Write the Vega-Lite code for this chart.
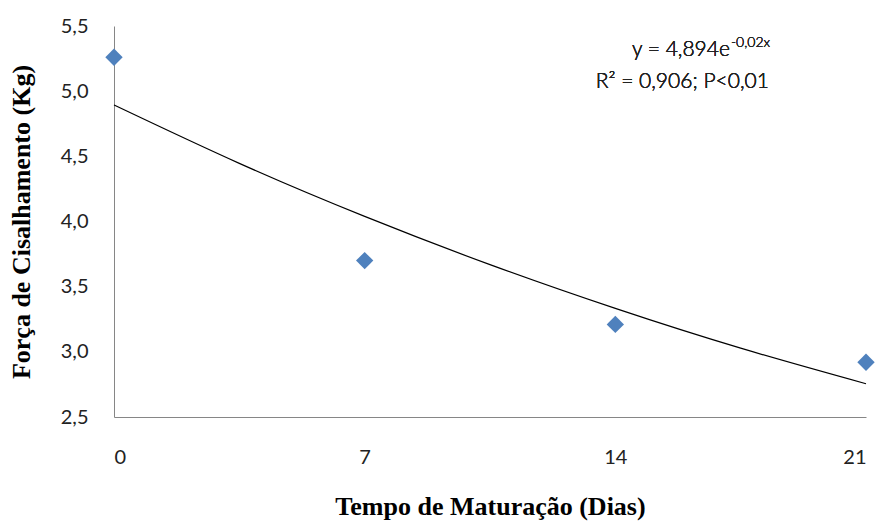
{
  "$schema": "https://vega.github.io/schema/vega-lite/v6.json",
  "width": 752,
  "height": 391,
  "autosize": "none",
  "padding": {"left": 114, "top": 26, "right": 16, "bottom": 107},
  "background": "white",
  "config": {"view": {"stroke": null}},
  "datasets": {
    "pontos": [
      {"dias": 0, "forca": 5.26},
      {"dias": 7, "forca": 3.70},
      {"dias": 14, "forca": 3.21},
      {"dias": 21, "forca": 2.92}
    ],
    "tendencia": [
      {"dias": 0, "forca": 4.894},
      {"dias": 3.5, "forca": 4.446},
      {"dias": 7, "forca": 4.039},
      {"dias": 10.5, "forca": 3.669},
      {"dias": 14, "forca": 3.333},
      {"dias": 17.5, "forca": 3.028},
      {"dias": 21, "forca": 2.755}
    ]
  },
  "encoding": {
    "x": {"field": "dias", "type": "quantitative",
      "scale": {"domain": [0, 21], "nice": false, "zero": false},
      "axis": {"values": [0, 7, 14, 21], "grid": false, "ticks": false, "labelPadding": 30,
        "domainColor": "#868686", "labelFont": "Lato", "labelFontSize": 20, "labelColor": "#222222",
        "title": "Tempo de Maturação (Dias)", "titleFont": "Liberation Serif", "titleFontSize": 26,
        "titleFontWeight": "bold", "titleColor": "#000000", "titlePadding": 26}},
    "y": {"field": "forca", "type": "quantitative",
      "scale": {"domain": [2.5, 5.5], "nice": false, "zero": false},
      "axis": {"values": [2.5, 3, 3.5, 4, 4.5, 5, 5.5], "grid": false, "ticks": false, "labelPadding": 26,
        "labelExpr": "replace(format(datum.value, '.1f'), '.', ',')",
        "domainColor": "#868686", "labelFont": "Lato", "labelFontSize": 20, "labelColor": "#222222",
        "title": "Força de Cisalhamento (Kg)", "titleFont": "Liberation Serif", "titleFontSize": 26,
        "titleFontWeight": "bold", "titleColor": "#000000", "titlePadding": 26}}
  },
  "layer": [
    {
      "data": {"name": "tendencia"},
      "mark": {"type": "line", "color": "#000000", "strokeWidth": 1.2, "interpolate": "natural"}
    },
    {
      "data": {"name": "pontos"},
      "mark": {"type": "point", "shape": "diamond", "filled": true, "size": 300, "color": "#4F81BD", "opacity": 1}
    },
    {
      "data": {"name": "pontos"},
      "mark": {"type": "text", "align": "right", "baseline": "middle", "font": "Lato", "fontWeight": 300, "fontSize": 21, "color": "#222222"},
      "encoding": {"x": {"datum": 17.2}, "y": {"datum": 5.316}, "text": {"value": "y = 4,894e"}}
    },
    {
      "data": {"name": "pontos"},
      "mark": {"type": "text", "align": "left", "baseline": "middle", "font": "Lato", "fontWeight": 300, "fontSize": 14, "color": "#222222", "dy": -7, "dx": 1},
      "encoding": {"x": {"datum": 17.2}, "y": {"datum": 5.316}, "text": {"value": "-0,02x"}}
    },
    {
      "data": {"name": "pontos"},
      "mark": {"type": "text", "align": "center", "baseline": "middle", "font": "Lato", "fontWeight": 300, "fontSize": 21, "color": "#222222"},
      "encoding": {"x": {"datum": 15.87}, "y": {"datum": 5.073}, "text": {"value": "R² = 0,906; P<0,01"}}
    }
  ]
}
